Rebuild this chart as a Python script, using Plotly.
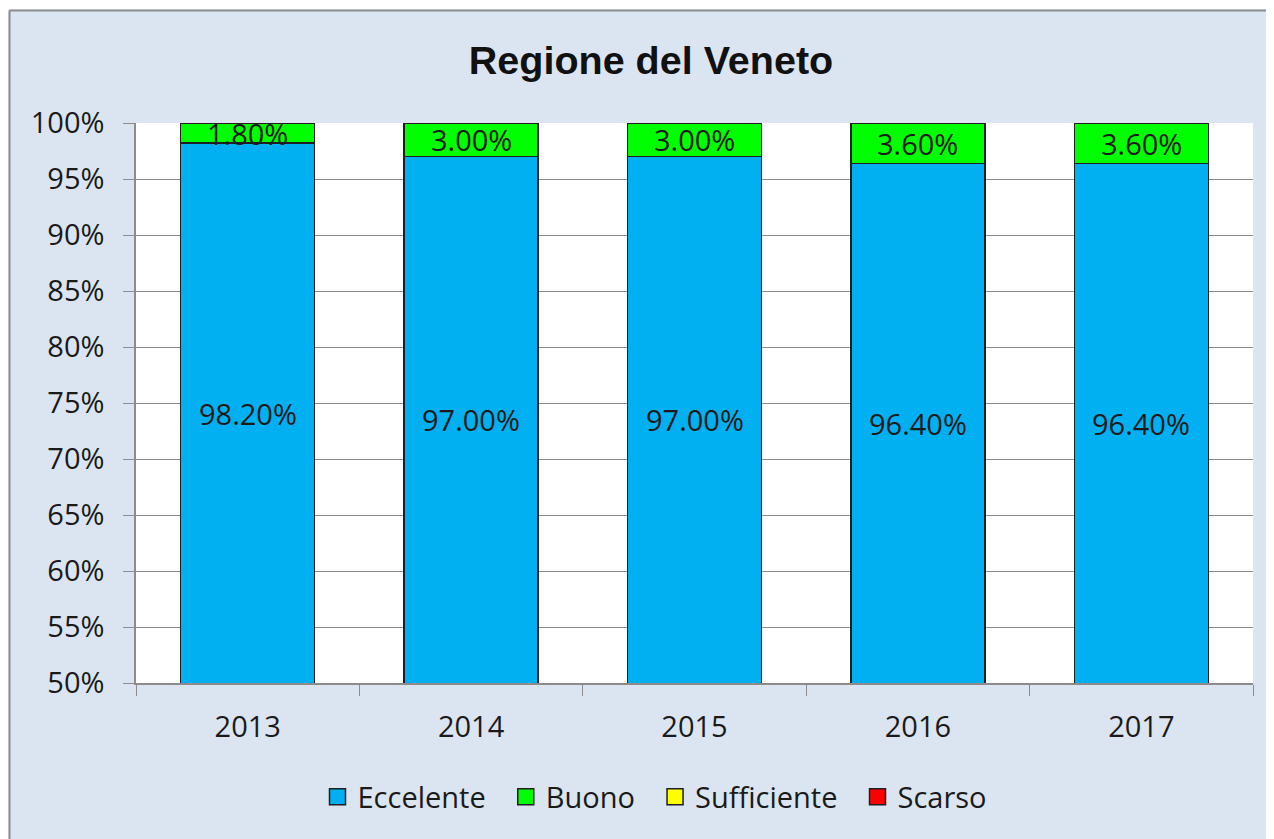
import plotly.graph_objects as go

years = ["2013", "2014", "2015", "2016", "2017"]
eccelente = [98.2, 97.0, 97.0, 96.4, 96.4]
buono = [1.8, 3.0, 3.0, 3.6, 3.6]
sufficiente = [0, 0, 0, 0, 0]
scarso = [0, 0, 0, 0, 0]
series_names = ["Eccelente", "Buono", "Sufficiente", "Scarso"]
series_colors = ["#00B0F0", "#00FF00", "#FFFF00", "#FF0000"]
y_ticks = list(range(50, 101, 5))
y_min, y_max = 50, 100

OFF = 8  # page body margin
W, H = 1266, 831
# page-pixel positions of plot area
PL, PR, PT, PB = 136, 1253, 123, 683
L, T = PL - OFF, PT - OFF
R, B = W + OFF - PR, H + OFF - PB
pw, ph = PR - PL, PB - PT

fig = go.Figure()
for name, vals, col in zip(series_names, [eccelente, buono, sufficiente, scarso], series_colors):
    fig.add_trace(go.Bar(
        x=years, y=vals, name=name, legendgroup=name, showlegend=False,
        marker=dict(color=col, line=dict(color="#1f1f1f", width=1.4)),
        hoverinfo="skip",
    ))
for k, (name, col) in enumerate(zip(series_names, series_colors)):
    pad = "\u00a0\u00a0" if k < len(series_names) - 1 else ""
    fig.add_trace(go.Scatter(
        x=[None], y=[None], mode="markers", name=name + pad, legendgroup=name,
        marker=dict(symbol="square", size=16, color=col, line=dict(color="#1f1f1f", width=1.5)),
        hoverinfo="skip",
    ))

font_main = "Open Sans"
lab_font = dict(family=font_main, size=29, color="#1a1a1a")
ann = []
for i, yr in enumerate(years):
    e = eccelente[i]
    ann.append(dict(x=i, y=(y_min + e) / 2, text=f"{e:.2f}%", showarrow=False,
                    font=lab_font, yanchor="middle"))
    b = buono[i]
    ann.append(dict(x=i, y=e + b / 2, text=f"{b:.2f}%", showarrow=False,
                    font=lab_font, yanchor="middle"))

def px2p(xp):
    return (xp - PL) / pw

def py2p(yp):
    return (PB - yp) / ph

shapes = [
    dict(type="rect", xref="paper", yref="paper", x0=px2p(0), x1=px2p(1300),
         y0=py2p(9.5), y1=py2p(0), fillcolor="white", line=dict(width=0), layer="above"),
    dict(type="rect", xref="paper", yref="paper", x0=px2p(0), x1=px2p(8.5),
         y0=py2p(860), y1=py2p(0), fillcolor="white", line=dict(width=0), layer="above"),
    dict(type="line", xref="paper", yref="paper", x0=px2p(9.5), x1=px2p(1300),
         y0=py2p(10.5), y1=py2p(10.5), line=dict(color="#8c8c8c", width=2), layer="above"),
    dict(type="line", xref="paper", yref="paper", x0=px2p(9.5), x1=px2p(9.5),
         y0=py2p(10.5), y1=py2p(860), line=dict(color="#8c8c8c", width=2), layer="above"),
]

fig.update_layout(
    width=W, height=H,
    barmode="stack", bargap=0.4,
    paper_bgcolor="#DBE5F1", plot_bgcolor="white",
    margin=dict(l=L, r=R, t=T, b=B, autoexpand=False),
    title=dict(text="<b>Regione del Veneto</b>", x=(651 - OFF) / W, xanchor="center", xref="container",
               y=1 - (60 - OFF) / H, yanchor="middle", yref="container",
               font=dict(family="Liberation Sans", size=39.5, color="#111111")),
    font=dict(family=font_main, size=29, color="#1a1a1a"),
    showlegend=True,
    legend=dict(orientation="h", x=px2p(655), xanchor="center", y=py2p(797), yanchor="middle",
                font=dict(family=font_main, size=29, color="#1a1a1a"), bgcolor="rgba(0,0,0,0)",
                traceorder="normal", itemwidth=30),
    annotations=ann,
    shapes=shapes,
)
fig.update_xaxes(type="category", range=[-0.5, len(years) - 0.5], showgrid=False,
                 showline=True, linecolor="#8c8c8c", linewidth=1.5,
                 ticks="outside", tickson="boundaries", ticklen=11, tickcolor="#8c8c8c",
                 tickangle=0,
                 tickfont=dict(family=font_main, size=29, color="#1a1a1a"), ticklabelstandoff=17)
fig.update_yaxes(range=[y_min, y_max], tickvals=y_ticks, ticktext=[f"{v}%" for v in y_ticks],
                 showgrid=True, gridcolor="#8c8c8c", gridwidth=1.2,
                 showline=True, linecolor="#8c8c8c", linewidth=1.5,
                 ticks="outside", ticklen=11, tickcolor="#8c8c8c", zeroline=False,
                 tickfont=dict(family=font_main, size=29, color="#1a1a1a"), ticklabelstandoff=13)

fig.write_html("out.html")
